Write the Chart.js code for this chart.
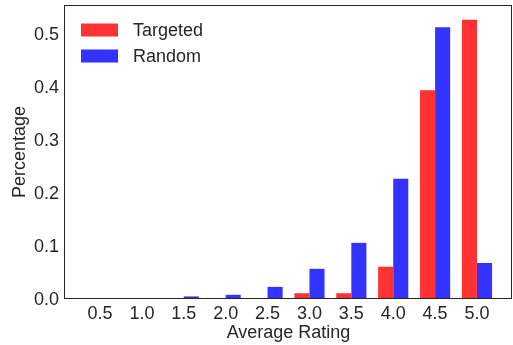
<!DOCTYPE html>
<html>
<head>
<meta charset="utf-8">
<script src="https://cdn.jsdelivr.net/npm/chart.js@4.4.1/dist/chart.umd.min.js"></script>
<style>
  html, body { margin: 0; padding: 0; background: #fff; }
  #wrap { width: 513px; height: 345px; }
</style>
</head>
<body>
<div id="wrap"><canvas id="ratingChart" width="513" height="345"></canvas></div>
<script>
// average rating buckets and the share of each group
const ratings = [0.5, 1.0, 1.5, 2.0, 2.5, 3.0, 3.5, 4.0, 4.5, 5.0];
const targeted = [0, 0, 0, 0, 0, 0.009, 0.009, 0.059, 0.392, 0.525];
const random = [0, 0, 0.003, 0.006, 0.021, 0.055, 0.104, 0.225, 0.511, 0.066];
const yTicks = [0.0, 0.1, 0.2, 0.3, 0.4, 0.5];

const FONT = "'Liberation Sans', Arial, sans-serif";
const TEXT = '#262626';

// legend drawn inside the plot, top-left, like the original
const boxLegend = {
  id: 'boxLegend',
  afterDraw(chart) {
    const ctx = chart.ctx;
    const area = chart.chartArea;
    ctx.save();
    // frame around the plot
    ctx.strokeStyle = TEXT;
    ctx.lineWidth = 1;
    ctx.strokeRect(area.left - 0.5, area.top - 0.5, area.right - area.left, area.bottom - area.top + 1);

    ctx.font = '18px ' + FONT;
    ctx.textBaseline = 'middle';
    chart.data.datasets.forEach((ds, i) => {
      const y = area.top + 24 + i * 26;
      ctx.fillStyle = ds.backgroundColor;
      ctx.fillRect(area.left + 16, y - 6.5, 37, 13);
      ctx.fillStyle = TEXT;
      ctx.fillText(ds.label, area.left + 68, y + 1);
    });
    ctx.restore();
  }
};

const ctx = document.getElementById('ratingChart').getContext('2d');

new Chart(ctx, {
  type: 'bar',
  data: {
    datasets: [{
      label: 'Targeted',
      data: ratings.map((r, i) => ({ x: r, y: targeted[i] })),
      backgroundColor: 'rgb(255, 51, 51)',
      borderWidth: 0
    }, {
      label: 'Random',
      data: ratings.map((r, i) => ({ x: r, y: random[i] })),
      backgroundColor: 'rgb(51, 51, 255)',
      borderWidth: 0
    }]
  },
  options: {
    responsive: false,
    animation: false,
    categoryPercentage: 0.72,
    barPercentage: 1.0,
    layout: {
      padding: { top: 6, right: 1, left: 0, bottom: 0 }
    },
    plugins: {
      legend: { display: false },
      tooltip: { enabled: false }
    },
    scales: {
      x: {
        type: 'linear',
        offset: false,
        min: 0.082,
        max: 5.418,
        grid: { display: false, drawTicks: false },
        border: { display: false },
        afterBuildTicks: scale => {
          scale.ticks = ratings.map(v => ({ value: v }));
        },
        afterFit: scale => {
          scale.height = 47;
          scale.paddingLeft = 0;
          scale.paddingRight = 0;
        },
        ticks: {
          color: TEXT,
          padding: 5,
          autoSkip: false,
          maxRotation: 0,
          font: { family: FONT, size: 18 },
          callback: v => Number(v).toFixed(1)
        },
        title: {
          display: true,
          text: 'Average Rating',
          color: TEXT,
          padding: { top: 0, bottom: 1 },
          font: { family: FONT, size: 18 }
        }
      },
      y: {
        min: 0,
        max: 0.551,
        grid: { display: false, drawTicks: false },
        border: { display: false },
        afterBuildTicks: scale => {
          scale.ticks = yTicks.map(v => ({ value: v }));
        },
        afterFit: scale => {
          scale.width = 65;
          scale.paddingTop = 0;
          scale.paddingBottom = 0;
        },
        ticks: {
          color: TEXT,
          padding: 6,
          labelOffset: 2,
          font: { family: FONT, size: 18 },
          callback: v => Number(v).toFixed(1)
        },
        title: {
          display: true,
          text: 'Percentage',
          color: TEXT,
          padding: { top: 9, bottom: 0 },
          font: { family: FONT, size: 18 }
        }
      }
    }
  },
  plugins: [boxLegend]
});
</script>
</body>
</html>
